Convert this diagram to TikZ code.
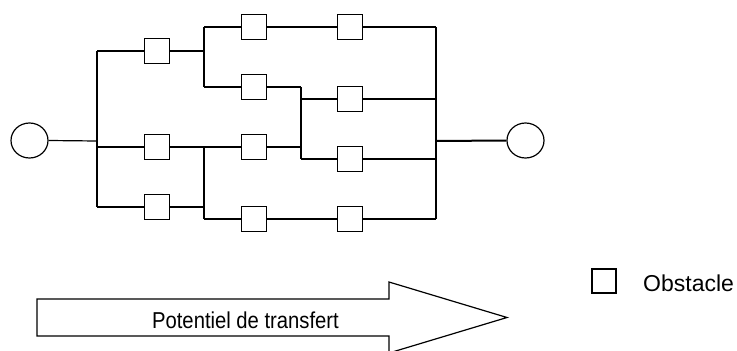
\documentclass[tikz,border=0pt]{standalone}
\usepackage{fontspec}
\setmainfont{Liberation Sans}
\usetikzlibrary{shapes.geometric}
\begin{document}
\begin{tikzpicture}[x=1pt,y=-1pt,
  wire/.style={line width=1.2pt},
  thick wire/.style={line width=2pt},
  obst/.style={draw,line width=1.2pt,minimum width=25pt,minimum height=25pt,inner sep=0pt,fill=white},
  term/.style={draw,ellipse,line width=1.2pt,minimum width=37pt,minimum height=35pt,inner sep=0pt},
  lbl/.style={font=\fontsize{23}{27}\selectfont,inner sep=0pt}]
\useasboundingbox (0,0) rectangle (737,351);
% terminals
\node[term] (inL) at (29.5,140.5) {};
\node[term] (outR) at (525.5,140.5) {};
% obstacles
\node[obst] (c1r1) at (157,51) {};
\node[obst] (c1r2) at (157,147) {};
\node[obst] (c1r3) at (157,207) {};
\node[obst] (c2r1) at (254,27) {};
\node[obst] (c2r2) at (254,87) {};
\node[obst] (c2r3) at (254,147) {};
\node[obst] (c2r4) at (254,219) {};
\node[obst] (c3r1) at (350,27) {};
\node[obst] (c3r2) at (350,99) {};
\node[obst] (c3r3) at (350,159) {};
\node[obst] (c3r4) at (350,219) {};
% junctions
\coordinate (jin) at (97,141);
\coordinate (ja1) at (97,51);
\coordinate (ja2) at (97,147);
\coordinate (ja3) at (97,207);
\coordinate (jb1) at (204,27);
\coordinate (jb2) at (204,51);
\coordinate (jb3) at (204,87);
\coordinate (jb4) at (204,147);
\coordinate (jb5) at (204,207);
\coordinate (jb6) at (204,219);
\coordinate (jc1) at (301,87);
\coordinate (jc2) at (301,99);
\coordinate (jc3) at (301,147);
\coordinate (jc4) at (301,159);
\coordinate (jd1) at (436,27);
\coordinate (jd2) at (436,99);
\coordinate (jd3) at (436,141);
\coordinate (jd4) at (436,159);
\coordinate (jd5) at (436,219);
% wires
\draw[wire] (inL.east) -- (jin);
\draw[wire] (ja1) -- (ja3);
\draw[wire] (ja1) -- (c1r1.west);
\draw[wire] (ja2) -- (c1r2.west);
\draw[wire] (ja3) -- (c1r3.west);
\draw[thick wire] (c1r1.east) -- (jb2);
\draw[wire] (jb1) -- (jb3);
\draw[wire] (jb1) -- (c2r1.west);
\draw[wire] (jb3) -- (c2r2.west);
\draw[wire] (c1r2.east) -- (c2r3.west);
\draw[wire] (jb4) -- (jb6);
\draw[thick wire] (c1r3.east) -- (jb5);
\draw[wire] (jb6) -- (c2r4.west);
\draw[wire] (c2r1.east) -- (c3r1.west);
\draw[wire] (c3r1.east) -- (jd1);
\draw[wire] (c2r2.east) -- (jc1);
\draw[wire] (jc1) -- (jc4);
\draw[thick wire] (c2r3.east) -- (jc3);
\draw[thick wire] (jc2) -- (c3r2.west);
\draw[wire] (jc4) -- (c3r3.west);
\draw[wire] (c3r2.east) -- (jd2);
\draw[wire] (c3r3.east) -- (jd4);
\draw[wire] (c2r4.east) -- (c3r4.west);
\draw[wire] (c3r4.east) -- (jd5);
\draw[wire] (jd1) -- (jd5);
\draw[thick wire] (jd3) -- (outR.west);
% transfer arrow
\draw[wire,line join=miter] (37,299) -- (389,299) -- (389,282) -- (507,317.5) -- (389,353) -- (389,336) -- (37,336) -- cycle;
\node[lbl,anchor=base] (pot) at (245.5,328) {\scalebox{0.88}[1]{Potentiel de transfert}};
% legend
\node[obst,minimum width=24pt,minimum height=24pt] (leg) at (604,281) {};
\node[lbl,anchor=base west] (legt) at (643,291) {Obstacle};
\end{tikzpicture}
\end{document}
